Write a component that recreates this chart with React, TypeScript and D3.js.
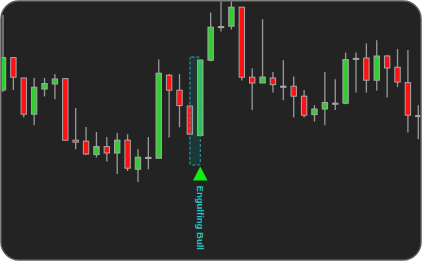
import React from "react";
import * as d3 from "d3";

// OHLC price series
const opens = [55, 71.2, 61, 42.9, 55.5, 58, 60.7, 29.9, 29.4, 22.7, 26.7, 23.5, 29.9, 15.4, 21.3, 20.9, 62.4, 54.9, 47, 32.2, 69.9, 86.7, 86.9, 96.4, 61.4, 58.5, 61, 56.9, 56.9, 51.9, 42.7, 45.5, 48.4, 48.4, 70.4, 71, 59.9, 72, 66.4, 58.7, 42.2];
const highs = [92.5, 71.2, 61, 61, 61, 63, 61, 46, 36.5, 34, 31.5, 33.5, 32.9, 25.4, 31.5, 70.2, 63, 63, 47, 70, 93.7, 103, 103, 96.4, 65.9, 90.4, 64, 69.9, 61.7, 55, 47.4, 64, 60.4, 73.7, 73.7, 78.2, 79.9, 72.5, 75.5, 75, 47.4];
const lows = [54, 55, 41.2, 37.4, 51.7, 50.4, 29.9, 25.4, 22.5, 21.2, 19.2, 13, 14.5, 9, 15.4, 20.9, 31.2, 36.4, 32.8, 32.2, 69.4, 84.2, 85.2, 59.7, 45, 58.5, 53.7, 49.9, 41.2, 41.2, 39.2, 37.4, 45, 47.9, 53.7, 53.7, 54.7, 51.2, 56.5, 33.7, 30.4];
const closes = [71.2, 61.4, 42.9, 56.4, 58.2, 60.5, 29.9, 28.9, 23, 26.7, 23.5, 29.9, 15.9, 21.4, 21.3, 63.4, 54.9, 47.2, 32.9, 70, 86.4, 86.7, 96.4, 61.4, 58.5, 61.5, 57.7, 56.9, 51.9, 42.4, 45.5, 48.7, 48.4, 70.2, 70.8, 59.9, 72, 66, 59, 42.4, 42.2];

// Pattern annotation
const patternStart = 18;
const patternEnd = 19;
const patternTop = 71.5;
const patternBottom = 17.5;
const patternMarkerPrice = 16.7;
const patternLabel = "Engulfing Bull";

const W = 422;
const H = 261;

export default function App() {
  const x = d3.scaleLinear().domain([0, opens.length - 1]).range([3, 418.3]);
  const y = d3.scaleLinear().domain([0, 100]).range([200, 0]);
  const bodyW = 5.4;

  const candles = opens.map((o, i) => ({ o, h: highs[i], l: lows[i], c: closes[i], i }));

  const rx0 = x(patternStart);
  const rx1 = x(patternEnd);
  const ry0 = y(patternTop);
  const ry1 = y(patternBottom);
  const mx = x(patternEnd);
  const my = y(patternMarkerPrice);

  return (
    <svg width={W} height={H} style={{ position: "absolute", left: 0, top: 0 }}>
      <defs>
        <clipPath id="frameClip">
          <rect x={1} y={1} width={420} height={259} rx={18} ry={18} />
        </clipPath>
      </defs>
      <rect x={0} y={0} width={W} height={H} fill="#ffffff" />
      <rect x={1} y={1} width={420} height={259} rx={18} ry={18} fill="#232323" />
      <g clipPath="url(#frameClip)">
        {candles.map((d) => {
          const cx = x(d.i);
          const top = y(Math.max(d.o, d.c));
          const bot = y(Math.min(d.o, d.c));
          const hgt = Math.max(bot - top, 1);
          const fill = d.c > d.o ? "#33cc33" : d.c < d.o ? "#ff1111" : "#d8d8d8";
          return (
            <g key={d.i}>
              <line x1={cx} x2={cx} y1={y(d.h)} y2={y(d.l)} stroke="#9a9a9a" strokeWidth={1.3} />
              <rect
                x={cx - bodyW / 2}
                y={top}
                width={bodyW}
                height={hgt}
                fill={fill}
                stroke="#a8a8a8"
                strokeWidth={1}
              />
            </g>
          );
        })}
        <rect
          x={rx0}
          y={ry0}
          width={rx1 - rx0}
          height={ry1 - ry0}
          rx={1.5}
          fill="rgba(0,190,190,0.13)"
          stroke="#26aaaa"
          strokeWidth={1}
          strokeDasharray="3,2"
        />
        <path
          d={`M${mx},${my} L${mx + 7.3},${my + 14} L${mx - 7.3},${my + 14} Z`}
          fill="#11ee11"
        />
        <text
          transform={`translate(${mx + 0.5},${my + 19}) rotate(90)`}
          fontFamily="Liberation Sans, Arial, sans-serif"
          fontWeight="bold"
          fontSize={9.5}
          fill="#22c4c4"
          dominantBaseline="central"
          textAnchor="start"
        >
          {patternLabel}
        </text>
      </g>
      <rect x={1} y={1} width={420} height={259} rx={18} ry={18} fill="none" stroke="#5a5a5a" strokeWidth={1.5} />
    </svg>
  );
}
